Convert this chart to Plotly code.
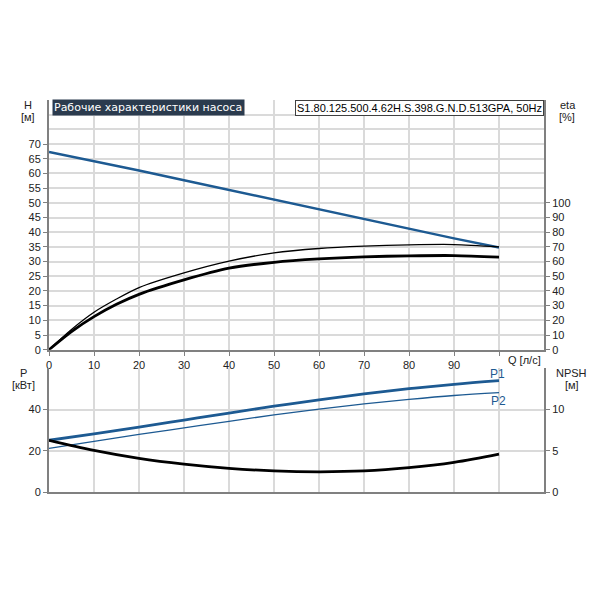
import plotly.graph_objects as go

# ---------------- data ----------------
Q = [0, 10, 20, 30, 40, 50, 60, 70, 80, 90, 100]
H = [67.3, 64.2, 61.0, 57.7, 54.4, 51.0, 47.7, 44.4, 41.1, 37.9, 34.8]

Q_eta = [0, 5, 10, 15, 20, 30, 40, 50, 60, 70, 80, 90, 100]
eta_thin = [0, 13.8, 25.5, 34.5, 42.3, 52.3, 60.3, 65.9, 68.9, 70.5, 71.4, 71.6, 70.0]
eta_thick = [0, 12.3, 22.5, 30.9, 37.7, 47.5, 55.5, 59.5, 61.8, 63.2, 63.9, 64.1, 63.0]

P1 = [25.1, 28.2, 31.5, 34.9, 38.3, 41.6, 44.7, 47.6, 50.1, 52.2, 54.0]
P2 = [21.2, 24.6, 27.9, 31.1, 34.3, 37.4, 40.2, 42.7, 44.9, 46.8, 48.2]
NPSH = [6.27, 5.05, 4.08, 3.38, 2.87, 2.56, 2.45, 2.55, 2.95, 3.6, 4.6]

x_ticks = list(range(0, 101, 10))
x_ticktext = [str(v) for v in range(0, 91, 10)] + [""]
H_ticks = list(range(0, 71, 5))
H_extra_grid = [75, 80, 85]
eta_ticks = list(range(0, 101, 10))
P_ticks = [0, 20, 40]
P_extra_grid = [60]
NPSH_ticks = [0, 5, 10]

title_text = "Рабочие характеристики насоса"
model_text = "S1.80.125.500.4.62H.S.398.G.N.D.513GPA, 50Hz"

# ---------------- style ----------------
BLUE = "#1d5a92"
BLACK = "#000000"
AXIS = "#808080"
GRID = "#dadada"
TXT = "#222222"
FONT = "Liberation Sans"

fig = go.Figure()

fig.add_trace(go.Scatter(x=Q, y=H, mode="lines", line=dict(color=BLUE, width=2.5),
                         xaxis="x", yaxis="y", showlegend=False))
fig.add_trace(go.Scatter(x=Q_eta, y=eta_thin, mode="lines",
                         line=dict(color=BLACK, width=1.3, shape="spline", smoothing=0.8),
                         xaxis="x", yaxis="y2", showlegend=False))
fig.add_trace(go.Scatter(x=Q_eta, y=eta_thick, mode="lines",
                         line=dict(color=BLACK, width=2.8, shape="spline", smoothing=0.8),
                         xaxis="x", yaxis="y2", showlegend=False))

fig.add_trace(go.Scatter(x=Q, y=P1, mode="lines",
                         line=dict(color=BLUE, width=2.8, shape="spline", smoothing=1.0),
                         xaxis="x2", yaxis="y3", showlegend=False))
fig.add_trace(go.Scatter(x=Q, y=P2, mode="lines",
                         line=dict(color=BLUE, width=1.3, shape="spline", smoothing=1.0),
                         xaxis="x2", yaxis="y3", showlegend=False))
fig.add_trace(go.Scatter(x=Q, y=NPSH, mode="lines",
                         line=dict(color=BLACK, width=2.8, shape="spline", smoothing=1.0),
                         xaxis="x2", yaxis="y4", showlegend=False))

tickfont = dict(family=FONT, size=11, color=TXT)
common_axis = dict(showline=True, linecolor=AXIS, linewidth=2, zeroline=False,
                   tickfont=tickfont, tickcolor=AXIS, ticklen=4, tickwidth=1)

# page has an 8px body margin; figure is 592x592 placed at (8, 8)
OFF = 8
FW = FH = 592
L = 49 - OFF
PW = 495
R = FW - L - PW
T = 100 - OFF
B = round(FH - (491.7 - OFF))
PH = FH - T - B


def px(xp):
    return (xp - OFF - L) / PW


def py(yp):
    return (FH - B - (yp - OFF)) / PH


upper_dom = [py(349.7), 1.0]
lower_dom = [0.0, py(368.3)]

fig.update_layout(
    width=FW, height=FH,
    margin=dict(l=L, r=R, t=T, b=B, pad=0),
    paper_bgcolor="white", plot_bgcolor="white",
    font=dict(family=FONT, size=11, color=TXT),
    xaxis=dict(common_axis, domain=[0, 1], range=[0, 110], anchor="y",
               tickmode="array", tickvals=x_ticks, ticktext=x_ticktext,
               ticks="outside", showgrid=True, gridcolor=GRID, gridwidth=2),
    yaxis=dict(common_axis, domain=upper_dom, range=[0, 85], anchor="x",
               tickmode="array", tickvals=H_ticks, ticks="outside",
               showgrid=True, gridcolor=GRID, gridwidth=2,
               minor=dict(tickmode="array", tickvals=H_extra_grid, showgrid=True,
                          gridcolor=GRID, gridwidth=2, ticks="")),
    yaxis2=dict(common_axis, overlaying="y", side="right", range=[0, 170], anchor="x",
                tickmode="array", tickvals=eta_ticks, ticks="outside", showgrid=False),
    xaxis2=dict(common_axis, domain=[0, 1], range=[0, 110], anchor="y3",
                tickmode="array", tickvals=x_ticks, showticklabels=False, ticks="",
                showgrid=True, gridcolor=GRID, gridwidth=2),
    yaxis3=dict(common_axis, domain=lower_dom, range=[0, 60], anchor="x2",
                tickmode="array", tickvals=P_ticks, ticks="outside",
                showgrid=True, gridcolor=GRID, gridwidth=2,
                minor=dict(tickmode="array", tickvals=P_extra_grid, showgrid=True,
                           gridcolor="#c4c4c4", gridwidth=2, ticks="")),
    yaxis4=dict(common_axis, overlaying="y3", side="right", range=[0, 15], anchor="x2",
                tickmode="array", tickvals=NPSH_ticks, ticks="outside", showgrid=False),
)

lab = dict(family=FONT, size=11, color=TXT)
annots = [
    ("H", 28.3, 105), ("[м]", 28.3, 116.7),
    ("eta", 568, 105), ("[%]", 566.7, 116.7),
    ("P", 23.3, 372.7), ("[кВт]", 23.3, 385),
    ("NPSH", 571.7, 372.7), ("[м]", 571.7, 385),
    ("Q [л/с]", 524, 360),
]
for t, xp, yp in annots:
    fig.add_annotation(text=t, xref="paper", yref="paper", x=px(xp), y=py(yp),
                       xanchor="center", yanchor="middle", showarrow=False, font=lab)

fig.add_annotation(text="P1", xref="paper", yref="paper", x=px(497.3), y=py(374.3),
                   xanchor="center", yanchor="middle", showarrow=False,
                   font=dict(family=FONT, size=12, color=BLUE))
fig.add_annotation(text="P2", xref="paper", yref="paper", x=px(498.3), y=py(400.7),
                   xanchor="center", yanchor="middle", showarrow=False,
                   font=dict(family=FONT, size=12, color=BLUE))

fig.add_annotation(text=title_text, xref="paper", yref="paper", x=px(52), y=py(107),
                   xanchor="left", yanchor="middle", showarrow=False, align="left",
                   bgcolor="#2b3b4e", borderpad=1, width=189, height=13,
                   font=dict(family="DejaVu Sans", size=11, color="white"))
fig.add_annotation(text=model_text, xref="paper", yref="paper", x=px(543.5), y=py(108),
                   xanchor="right", yanchor="middle", showarrow=False, align="left",
                   bgcolor="white", bordercolor="#404040", borderwidth=1, borderpad=1,
                   font=dict(family=FONT, size=11, color="black"))

fig.write_html("out.html")
